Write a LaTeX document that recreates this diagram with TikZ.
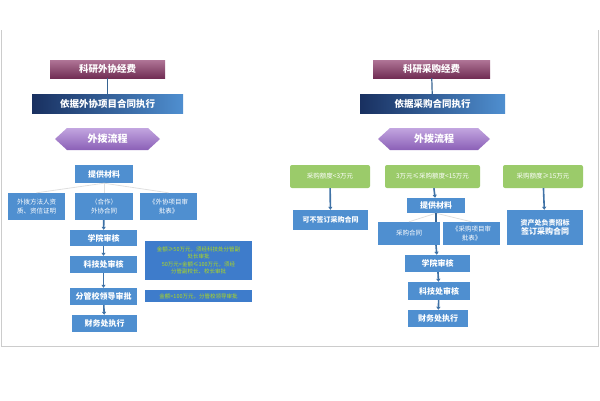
\documentclass[tikz,border=0pt]{standalone}
\usepackage{fontspec}
\newfontfamily\cjk{Noto Sans CJK SC}
\usetikzlibrary{shapes.geometric,arrows.meta}
\definecolor{pur}{HTML}{8E3A6A}
\definecolor{navy}{HTML}{1F3C78}
\definecolor{hexc}{HTML}{9A6ACB}
\definecolor{bl}{HTML}{4F8FD0}
\definecolor{gr}{HTML}{9BCB6A}
\definecolor{note}{HTML}{3E7CCB}
\tikzset{
 base/.style={draw=none,inner sep=1pt,align=center,font=\cjk\bfseries,text=white},
 topbox/.style={base,top color=pur!70!white,bottom color=pur!80!black,font=\cjk\bfseries\fontsize{9.5}{10}\selectfont},
 navbox/.style={base,left color=navy!80!black,right color=bl,font=\cjk\bfseries\fontsize{9.5}{10}\selectfont},
 bbox/.style={base,fill=bl,font=\cjk\bfseries\fontsize{8}{9}\selectfont},
 sbox/.style={base,fill=bl,font=\cjk\fontsize{6.5}{8.5}\selectfont},
 gbox/.style={base,fill=gr,rounded corners=2pt,font=\cjk\fontsize{6.5}{7}\selectfont},
 nbox/.style={base,fill=note,text=yellow!70!green,font=\cjk\fontsize{5.5}{7.5}\selectfont},
 hextext/.style={font=\cjk\bfseries\fontsize{10}{11}\selectfont,text=white},
 hexfill/.style={top color=hexc!60!white,bottom color=hexc!90!black,draw=none},
 arr/.style={-{Triangle[length=3pt,width=4pt]},line width=1.6pt,draw=bl!80!black},
 ln/.style={line width=1.2pt,draw=bl!70!black},
 fan/.style={line width=0.8pt,draw=gray!25}
}
\begin{document}
\begin{tikzpicture}[x=1pt,y=-1pt]
\useasboundingbox (0,0) rectangle (600,400);
\draw[gray!40,line width=0.6pt] (1,30) -- (1,346) -- (598,346) -- (598,30);
\def\B#1#2#3#4#5#6#7{\node[#1,minimum width={#4-#2},minimum height={#5-#3}] (#6) at ({(#2+#4)/2},{(#3+#5)/2}) {#7};}
% LEFT
\B{topbox}{50}{60}{165}{78}{L1}{科研外协经费}
\B{navbox}{32}{94}{183}{113}{L2}{依据外协项目合同执行}
\draw[hexfill] (55,139) -- (67,128) -- (148,128) -- (160,139) -- (148,150) -- (67,150) -- cycle;
\node[hextext] (L3) at (107.5,139) {外拨流程};
\B{bbox}{75}{165}{133}{183}{L4}{提供材料}
\B{sbox}{8}{193}{65}{220}{L5a}{外拨方法人资\\质、资信证明}
\B{sbox}{75}{193}{133}{220}{L5b}{（合作）\\外协合同}
\B{sbox}{140}{193}{197}{220}{L5c}{《外协项目审\\批表》}
\B{bbox}{70}{230}{137}{246}{L6}{学院审核}
\B{bbox}{70}{256}{137}{273}{L7}{科技处审核}
\B{bbox}{70}{288}{137}{305}{L8}{分管校领导审批}
\B{bbox}{72}{315}{137}{332}{L9}{财务处执行}
\B{nbox}{145}{241}{252}{280}{N1}{金额≥50万元，须经科技处分管副\\处长审批\\50万元<金额≤100万元，须经\\分管副校长、校长审批}
\B{nbox}{145}{290}{252}{302}{N2}{金额>100万元，分管校领导审批}
\draw[ln] (L1) -- (L2);
\draw[fan] (L4.south) -- (L5a.north); \draw[fan] (L4.south) -- (L5c.north); \draw[fan] (L4.south) -- (L5b.north);
\draw[arr] (L5b) -- (L6); \draw[arr] (L6) -- (L7); \draw[arr] (L7) -- (L8); \draw[arr] (L8) -- (L9);
% RIGHT
\B{topbox}{373}{60}{490}{78}{R1}{科研采购经费}
\B{navbox}{360}{94}{505}{113}{R2}{依据采购合同执行}
\draw[hexfill] (378,139) -- (390,128) -- (478,128) -- (490,139) -- (478,150) -- (390,150) -- cycle;
\node[hextext] (R3) at (434,139) {外拨流程};
\B{gbox}{290}{165}{370}{188}{G1}{采购额度<3万元}
\B{gbox}{385}{165}{480}{188}{G2}{3万元≤采购额度<15万元}
\B{gbox}{503}{165}{583}{188}{G3}{采购额度≥15万元}
\B{bbox}{293}{210}{368}{230}{R4}{\fontsize{7}{8}\selectfont 可不签订采购合同}
\B{bbox}{407}{198}{465}{213}{R5}{提供材料}
\B{sbox}{378}{222}{440}{245}{R6a}{采购合同}
\B{sbox}{443}{222}{500}{245}{R6b}{《采购项目审\\批表》}
\B{bbox}{507}{210}{583}{245}{R7}{\fontsize{7}{9}\selectfont 资产处负责招标\\签订采购合同}
\B{bbox}{405}{255}{470}{272}{R8}{学院审核}
\B{bbox}{408}{282}{470}{300}{R9}{科技处审核}
\B{bbox}{408}{310}{468}{327}{R10}{财务处执行}
\draw[ln] (R1) -- (R2);
\draw[arr] (G1) -- (R4); \draw[arr] (G3) -- (R7); \draw[arr] (G2) -- (R5);
\draw[fan] (R5.south) -- (R6a.north); \draw[fan] (R5.south) -- (R6b.north);
\draw[ln] (R5.south) -- (R5.south |- R6a.north);
\coordinate (Rm) at (R5.south |- R6a.south);
\draw[arr] (Rm) -- (R8); \draw[arr] (R8) -- (R9); \draw[arr] (R9) -- (R10);
\end{tikzpicture}
\end{document}
